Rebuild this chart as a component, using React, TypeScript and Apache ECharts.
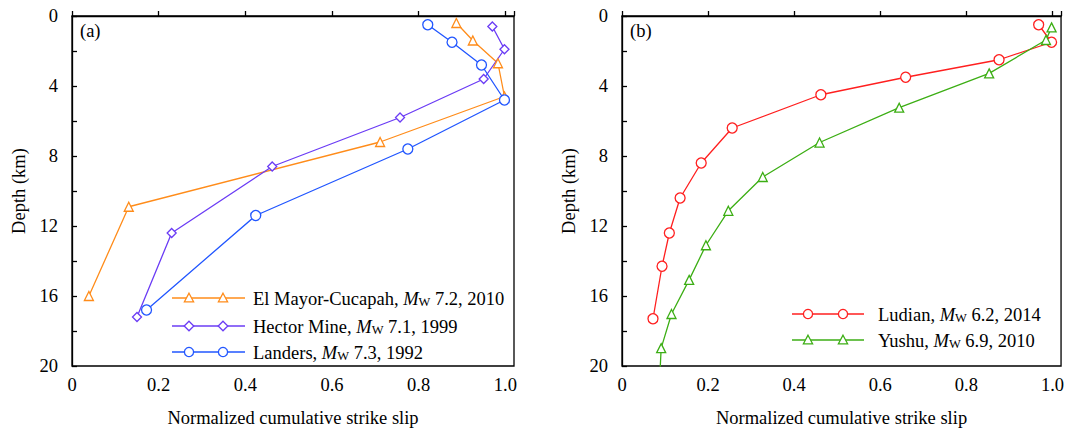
import React, { useEffect, useRef } from "react";
import * as echarts from "echarts";

// ---- data (panel a) ----
const emcSlip = [0.887, 0.925, 0.983, 0.998, 0.711, 0.131, 0.039];
const emcDepth = [0.4, 1.4, 2.7, 4.6, 7.2, 10.9, 16.0];
const hmSlip = [0.97, 0.998, 0.95, 0.757, 0.462, 0.23, 0.15];
const hmDepth = [0.6, 1.9, 3.6, 5.8, 8.6, 12.4, 17.2];
const landSlip = [0.821, 0.877, 0.945, 0.998, 0.775, 0.424, 0.172];
const landDepth = [0.5, 1.5, 2.8, 4.8, 7.6, 11.4, 16.8];
// ---- data (panel b) ----
const ludSlip = [0.968, 0.998, 0.876, 0.659, 0.462, 0.256, 0.184, 0.135, 0.11, 0.093, 0.072];
const ludDepth = [0.5, 1.5, 2.5, 3.5, 4.5, 6.4, 8.4, 10.4, 12.4, 14.3, 17.3];
const yuSlip = [0.998, 0.985, 0.853, 0.644, 0.459, 0.327, 0.247, 0.195, 0.156, 0.115, 0.091, 0.087];
const yuDepth = [0.65, 1.37, 3.28, 5.24, 7.23, 9.2, 11.13, 13.1, 15.08, 17.03, 18.98, 21];

const xTicks = [0, 0.2, 0.4, 0.6, 0.8, 1.0];
const yTicks = [0, 4, 8, 12, 16, 20];

const legendA = [
  { name: "El Mayor-Cucapah", mag: "7.2", year: "2010", color: "#ff8c1a", shape: "triangle" },
  { name: "Hector Mine", mag: "7.1", year: "1999", color: "#6b3cf5", shape: "diamond" },
  { name: "Landers", mag: "7.3", year: "1992", color: "#2156ff", shape: "circle" },
];
const legendB = [
  { name: "Ludian", mag: "6.2", year: "2014", color: "#ff1f1f", shape: "circle" },
  { name: "Yushu", mag: "6.9", year: "2010", color: "#3cae14", shape: "triangle" },
];

const FONT = "'Liberation Serif', 'Times New Roman', 'DejaVu Serif', serif";
const FS = 18.5;

const zip = (xs: number[], ys: number[]) => xs.map((x, i) => [x, ys[i]]);

function marker(shape: string, x: number, y: number, color: string) {
  const style = { fill: "#fff", stroke: color, lineWidth: 1.3 };
  if (shape === "circle") return { type: "circle", shape: { cx: x, cy: y, r: 4.6 }, style };
  if (shape === "triangle")
    return { type: "polygon", shape: { points: [[x, y - 4.8], [x + 4.6, y + 3.8], [x - 4.6, y + 3.8]] }, style };
  return { type: "polygon", shape: { points: [[x, y - 4.8], [x + 4.8, y], [x, y + 4.8], [x - 4.8, y]] }, style };
}

function legendGraphics(items: any[], x0: number, x1: number, m1: number, m2: number, tx: number, ys: number[]) {
  const out: any[] = [];
  items.forEach((it, i) => {
    const y = ys[i];
    out.push({ type: "line", shape: { x1: x0, y1: y, x2: x1, y2: y }, style: { stroke: it.color, lineWidth: 1.5 } });
    out.push(marker(it.shape, m1, y, it.color));
    out.push(marker(it.shape, m2, y, it.color));
    out.push({
      type: "text",
      x: tx,
      y: y,
      style: {
        text: `{a|${it.name}, }{i|M}{s|W}{a| ${it.mag}, ${it.year}}`,
        verticalAlign: "middle",
        fill: "#000",
        fontFamily: FONT,
        fontSize: FS,
        rich: {
          a: { fontSize: FS, fontFamily: FONT, fill: "#000", lineHeight: 20, verticalAlign: "bottom" },
          i: { fontSize: FS, fontFamily: FONT, fontStyle: "italic", fill: "#000", lineHeight: 20, verticalAlign: "bottom" },
          s: { fontSize: 12.5, fontFamily: FONT, fill: "#000", lineHeight: 9, verticalAlign: "bottom" },
        },
      },
    });
  });
  return out;
}

const axisCommonX = (gridIndex: number) => ({
  type: "value",
  gridIndex,
  min: 0,
  max: 1.02,
  interval: 0.2,
  name: "Normalized cumulative strike slip",
  nameLocation: "middle",
  nameGap: 42,
  nameTextStyle: { fontFamily: FONT, fontSize: FS, color: "#000" },
  axisLine: { show: true, lineStyle: { color: "#000", width: 1.3 } },
  axisTick: { show: true, inside: true, length: 5, lineStyle: { color: "#000", width: 1.3 } },
  axisLabel: {
    fontFamily: FONT,
    fontSize: FS,
    color: "#000",
    margin: 9,
    formatter: (v: number) => {
      const t = xTicks.find((k) => Math.abs(k - v) < 1e-6);
      if (t === undefined) return "";
      return t === 0 ? "0" : t.toFixed(1);
    },
  },
  splitLine: { show: false },
});

const axisCommonY = (gridIndex: number) => ({
  type: "value",
  gridIndex,
  inverse: true,
  min: 0,
  max: 20,
  interval: 2,
  name: "Depth (km)",
  nameLocation: "middle",
  nameGap: 44,
  nameTextStyle: { fontFamily: FONT, fontSize: FS, color: "#000" },
  axisLine: { show: true, lineStyle: { color: "#000", width: 1.3 } },
  axisTick: { show: true, inside: true, length: 5, lineStyle: { color: "#000", width: 1.3 } },
  axisLabel: {
    fontFamily: FONT,
    fontSize: FS,
    color: "#000",
    margin: 14,
    formatter: (v: number) => (yTicks.includes(v) ? String(v) : ""),
  },
  splitLine: { show: false },
});

function lineSeries(name: string, data: number[][], color: string, symbol: string, size: number, idx: number) {
  return {
    type: "line",
    name,
    xAxisIndex: idx,
    yAxisIndex: idx,
    data,
    symbol,
    symbolSize: size,
    showAllSymbol: true,
    clip: true,
    lineStyle: { color, width: 1.3 },
    itemStyle: { color: "#fff", borderColor: color, borderWidth: 1.3 },
    emphasis: { disabled: true },
  };
}

export default function App() {
  const ref = useRef<HTMLDivElement>(null);
  useEffect(() => {
    if (!ref.current) return;
    const chart = echarts.init(ref.current, undefined, { renderer: "svg" });
    chart.setOption({
      animation: false,
      backgroundColor: "#fff",
      textStyle: { fontFamily: FONT },
      grid: [
        { left: 72, top: 16, width: 442, height: 354, show: true, borderColor: "#000", borderWidth: 1.3, backgroundColor: "transparent" },
        { left: 622, top: 16, width: 442, height: 354, show: true, borderColor: "#000", borderWidth: 1.3, backgroundColor: "transparent" },
      ],
      xAxis: [axisCommonX(0), axisCommonX(1)],
      yAxis: [axisCommonY(0), axisCommonY(1)],
      series: [
        lineSeries("El Mayor-Cucapah", zip(emcSlip, emcDepth), legendA[0].color, "triangle", 9, 0),
        lineSeries("Hector Mine", zip(hmSlip, hmDepth), legendA[1].color, "diamond", 9, 0),
        lineSeries("Landers", zip(landSlip, landDepth), legendA[2].color, "circle", 10, 0),
        lineSeries("Ludian", zip(ludSlip, ludDepth), legendB[0].color, "circle", 10, 1),
        lineSeries("Yushu", zip(yuSlip, yuDepth), legendB[1].color, "triangle", 9, 1),
      ],
      graphic: [
        { type: "text", x: 80, y: 31, style: { text: "(a)", fontFamily: FONT, fontSize: FS, fill: "#000", verticalAlign: "middle" } },
        { type: "text", x: 630, y: 31, style: { text: "(b)", fontFamily: FONT, fontSize: FS, fill: "#000", verticalAlign: "middle" } },
        ...legendGraphics(legendA, 172, 245, 189, 223, 253, [298, 326, 352]),
        ...legendGraphics(legendB, 792, 864, 808, 843, 878, [314, 340]),
      ],
    });
    return () => chart.dispose();
  }, []);
  return <div ref={ref} style={{ position: "absolute", left: 0, top: 0, width: 1067, height: 432 }} />;
}
